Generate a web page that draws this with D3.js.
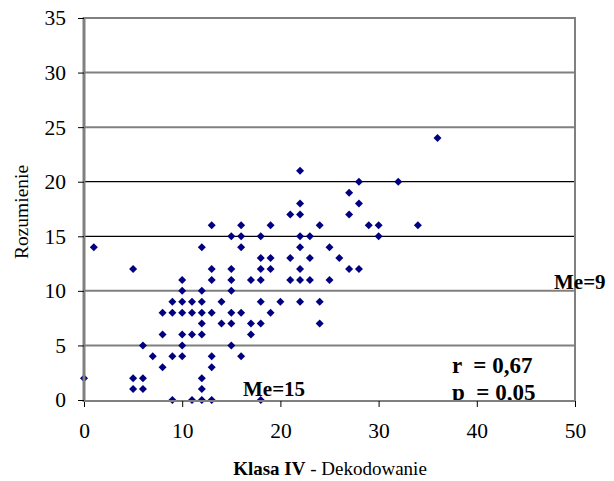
<!DOCTYPE html>
<html>
<head>
<meta charset="utf-8">
<script src="https://cdn.jsdelivr.net/npm/d3@7"></script>
<style>
  body { margin: 0; background: #fff; }
  text { font-family: "Liberation Serif", "Times New Roman", serif; }
</style>
</head>
<body>
<svg width="614" height="481"></svg>
<script>
// scores: Dekodowanie (x) vs Rozumienie (y)
var dekodowanie = [1,12,16,5,13,15,10,13,15,17,10,12,15,9,10,11,12,14,8,9,10,11,12,13,15,16,
  12,14,15,17,8,10,11,12,17,6,10,15,7,9,10,13,16,8,13,0,5,6,12,5,6,12,9,11,12,13,
  13,16,15,16,22,28,27,28,22,21,22,27,19,24,29,30,18,22,23,30,22,25,
  18,19,21,23,26,18,19,22,27,28,18,21,22,23,25,18,20,22,24,19,18,24,18,36,32,34];
var rozumienie = [14,14,14,12,12,12,11,11,11,11,10,10,10,9,9,9,9,9,8,8,8,8,8,8,8,8,
  7,7,7,7,6,6,6,6,6,5,5,5,4,4,4,4,4,3,3,2,2,2,2,1,1,1,0,0,0,0,
  16,16,15,15,21,20,19,18,18,17,17,17,16,16,16,16,15,15,15,15,14,14,
  13,13,13,13,13,12,12,12,12,12,11,11,11,11,11,9,9,9,9,8,7,7,0,24,20,16];

var xTicks = [0, 10, 20, 30, 40, 50];
var yTicks = [0, 5, 10, 15, 20, 25, 30, 35];
var blackGrid = [15, 20];   // these two render as thin black lines

var svg = d3.select("svg");
var mLeft = 84, mRight = 575, mTop = 18, mBottom = 400;

var x = d3.scaleLinear().domain([0, 50]).range([mLeft, mRight]);
var y = d3.scaleLinear().domain([0, 35]).range([mBottom, mTop]);

// gridlines
svg.append("g").selectAll("line")
  .data(yTicks.filter(function(d) { return d > 0; }))
  .enter().append("line")
  .attr("x1", mLeft).attr("x2", mRight)
  .attr("y1", function(d) { return y(d); })
  .attr("y2", function(d) { return y(d); })
  .attr("stroke", function(d) { return blackGrid.indexOf(d) >= 0 ? "#000" : "#808080"; })
  .attr("stroke-width", function(d) { return blackGrid.indexOf(d) >= 0 ? 1.2 : 2; });

// right border
svg.append("line")
  .attr("x1", mRight).attr("x2", mRight)
  .attr("y1", mTop - 1).attr("y2", mBottom + 1)
  .attr("stroke", "#808080").attr("stroke-width", 2);

// annotations (clipped by plot area)
svg.append("clipPath").attr("id", "plotclip")
  .append("rect").attr("x", 0).attr("y", 0).attr("width", 614).attr("height", mBottom + 1);

var notes = svg.append("g").attr("clip-path", "url(#plotclip)")
  .attr("font-weight", "bold").attr("fill", "#000");
notes.append("text").attr("x", 243).attr("y", 396).attr("font-size", 21).text("Me=15");
notes.append("text").attr("x", 554).attr("y", 289).attr("font-size", 21).text("Me=9");
notes.append("text").attr("x", 452).attr("y", 373).attr("font-size", 23)
  .attr("xml:space", "preserve").text("r  = 0,67");
notes.append("text").attr("x", 452).attr("y", 400).attr("font-size", 23)
  .attr("xml:space", "preserve").text("p  = 0,05");

// points
var pts = dekodowanie.map(function(d, i) { return [d, rozumienie[i]]; });
svg.append("g").selectAll("path")
  .data(pts)
  .enter().append("path")
  .attr("d", d3.symbol(d3.symbolSquare, 32))
  .attr("transform", function(d) { return "translate(" + x(d[0]) + "," + y(d[1]) + ") rotate(45)"; })
  .attr("fill", "#000080");

// x axis
var xAxis = svg.append("g").attr("transform", "translate(0," + (mBottom + 1) + ")")
  .call(d3.axisBottom(x).tickValues(xTicks).tickSize(6).tickPadding(16));
xAxis.select(".domain").attr("stroke", "#808080").attr("stroke-width", 2)
  .attr("d", "M" + mLeft + ",0H" + mRight);
xAxis.selectAll(".tick line").attr("stroke", "#000");
xAxis.selectAll(".tick text").attr("font-size", 21.5).attr("font-family", "Liberation Serif").attr("fill", "#000");

// y axis
var yAxis = svg.append("g").attr("transform", "translate(" + mLeft + ",0)")
  .call(d3.axisLeft(y).tickValues(yTicks).tickSize(6).tickPadding(12));
yAxis.select(".domain").attr("stroke", "#808080").attr("stroke-width", 3)
  .attr("d", "M0," + (mTop - 1) + "V" + (mBottom + 2));
yAxis.selectAll(".tick line").attr("stroke", "#000");
yAxis.selectAll(".tick text").attr("font-size", 21.5).attr("font-family", "Liberation Serif").attr("fill", "#000");

// axis titles
var xt = svg.append("text").attr("x", 330).attr("y", 475)
  .attr("text-anchor", "middle").attr("font-size", 19);
xt.append("tspan").attr("font-weight", "bold").text("Klasa IV");
xt.append("tspan").text(" - Dekodowanie");

svg.append("text")
  .attr("transform", "translate(28,212) rotate(-90)")
  .attr("text-anchor", "middle").attr("font-size", 19.5)
  .text("Rozumienie");
</script>
</body>
</html>
